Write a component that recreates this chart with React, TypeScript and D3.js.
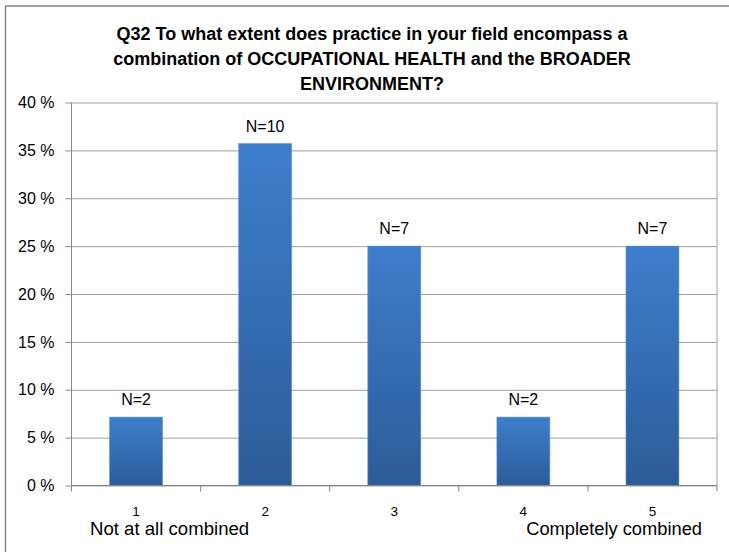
import React, { useEffect, useRef } from "react";
import * as d3 from "d3";

// Q32 survey answers (share of respondents)
const categories = ["1", "2", "3", "4", "5"];
const counts = [2, 10, 7, 2, 7];
const shares = [7.14, 35.71, 25.0, 7.14, 25.0];
const yTicks = [0, 5, 10, 15, 20, 25, 30, 35, 40];
const titleLines = [
  "Q32 To what extent does practice in your field encompass a",
  "combination of OCCUPATIONAL HEALTH and the BROADER",
  "ENVIRONMENT?",
];
const lowLabel = "Not at all combined";
const highLabel = "Completely combined";

const W = 729;
const H = 552;

const App = () => {
  const ref = useRef<SVGSVGElement>(null);

  useEffect(() => {
    const svg = d3.select(ref.current);
    svg.selectAll("*").remove();

    const margin = { top: 102.5, right: 12, bottom: 66.5, left: 71.5 };
    const font = "'Liberation Sans', Arial, sans-serif";

    // outer chart frame (right and bottom run off the picture)
    svg.append("rect")
      .attr("x", 5.5).attr("y", 6)
      .attr("width", W + 20).attr("height", H + 20)
      .attr("fill", "#fff")
      .attr("stroke", "#878787")
      .attr("stroke-width", 1.5);

    const defs = svg.append("defs");
    const grad = defs.append("linearGradient")
      .attr("id", "barGrad")
      .attr("x1", 0).attr("y1", 0).attr("x2", 0).attr("y2", 1);
    grad.append("stop").attr("offset", "0%").attr("stop-color", "#3d7ecc");
    grad.append("stop").attr("offset", "100%").attr("stop-color", "#2c5c98");

    const x = d3.scaleBand()
      .domain(categories)
      .range([margin.left, W - margin.right])
      .paddingInner(0.59)
      .paddingOuter(0.295);

    const y = d3.scaleLinear()
      .domain([0, 40])
      .range([H - margin.bottom, margin.top]);

    // gridlines + y labels
    const yAxis = svg.append("g")
      .attr("transform", `translate(${margin.left},0)`)
      .call(
        d3.axisLeft(y)
          .tickValues(yTicks)
          .tickSize(-(W - margin.right - margin.left))
          .tickPadding(17)
          .tickFormat(d => `${d} %`)
      );
    yAxis.select(".domain").remove();
    yAxis.selectAll(".tick line").attr("stroke", "#a0a0a0");
    yAxis.selectAll(".tick text")
      .attr("font-family", font)
      .attr("font-size", 16)
      .attr("fill", "#000");
    // small outside tick marks
    yAxis.selectAll(".tick").append("line")
      .attr("x1", -6).attr("x2", 0)
      .attr("stroke", "#868686");

    // plot area left/right edges
    svg.append("line")
      .attr("x1", margin.left).attr("x2", margin.left)
      .attr("y1", y(40)).attr("y2", y(0))
      .attr("stroke", "#868686");
    svg.append("line")
      .attr("x1", W - margin.right).attr("x2", W - margin.right)
      .attr("y1", y(40)).attr("y2", y(0))
      .attr("stroke", "#a0a0a0");

    // bars
    svg.append("g")
      .selectAll("rect")
      .data(shares)
      .join("rect")
      .attr("x", (d, i) => x(categories[i]))
      .attr("y", d => y(d))
      .attr("width", x.bandwidth())
      .attr("height", d => y(0) - y(d))
      .attr("fill", "url(#barGrad)")
      .attr("stroke", "#5a8fd0")
      .attr("stroke-opacity", 0.6)
      .attr("stroke-width", 1);

    // N= labels
    svg.append("g")
      .selectAll("text")
      .data(shares)
      .join("text")
      .attr("x", (d, i) => x(categories[i]) + x.bandwidth() / 2)
      .attr("y", d => y(d) - 12)
      .attr("text-anchor", "middle")
      .attr("font-family", font)
      .attr("font-size", 16)
      .text((d, i) => `N=${counts[i]}`);

    // x axis
    svg.append("line")
      .attr("x1", margin.left).attr("x2", W - margin.right)
      .attr("y1", y(0)).attr("y2", y(0))
      .attr("stroke", "#868686");
    const step = x.step();
    svg.append("g")
      .selectAll("line")
      .data(d3.range(categories.length + 1))
      .join("line")
      .attr("x1", i => margin.left + i * step)
      .attr("x2", i => margin.left + i * step)
      .attr("y1", y(0)).attr("y2", y(0) + 6)
      .attr("stroke", "#868686");
    svg.append("g")
      .selectAll("text")
      .data(categories)
      .join("text")
      .attr("x", d => x(d) + x.bandwidth() / 2)
      .attr("y", y(0) + 30)
      .attr("text-anchor", "middle")
      .attr("font-family", font)
      .attr("font-size", 13.5)
      .text(d => d);

    svg.append("text")
      .attr("x", 90).attr("y", 535)
      .attr("font-family", font)
      .attr("font-size", 18.6)
      .text(lowLabel);
    svg.append("text")
      .attr("x", 702).attr("y", 535)
      .attr("text-anchor", "end")
      .attr("font-family", font)
      .attr("font-size", 18.3)
      .text(highLabel);

    // title
    svg.append("g")
      .selectAll("text")
      .data(titleLines)
      .join("text")
      .attr("x", 372)
      .attr("y", (d, i) => 40 + i * 25)
      .attr("text-anchor", "middle")
      .attr("font-family", font)
      .attr("font-weight", "bold")
      .attr("font-size", 18)
      .text(d => d);
  }, []);

  return (
    <div style={{ position: "absolute", left: 0, top: 0 }}>
      <svg ref={ref} width={W} height={H} style={{ display: "block" }}></svg>
    </div>
  );
};

export default App;
